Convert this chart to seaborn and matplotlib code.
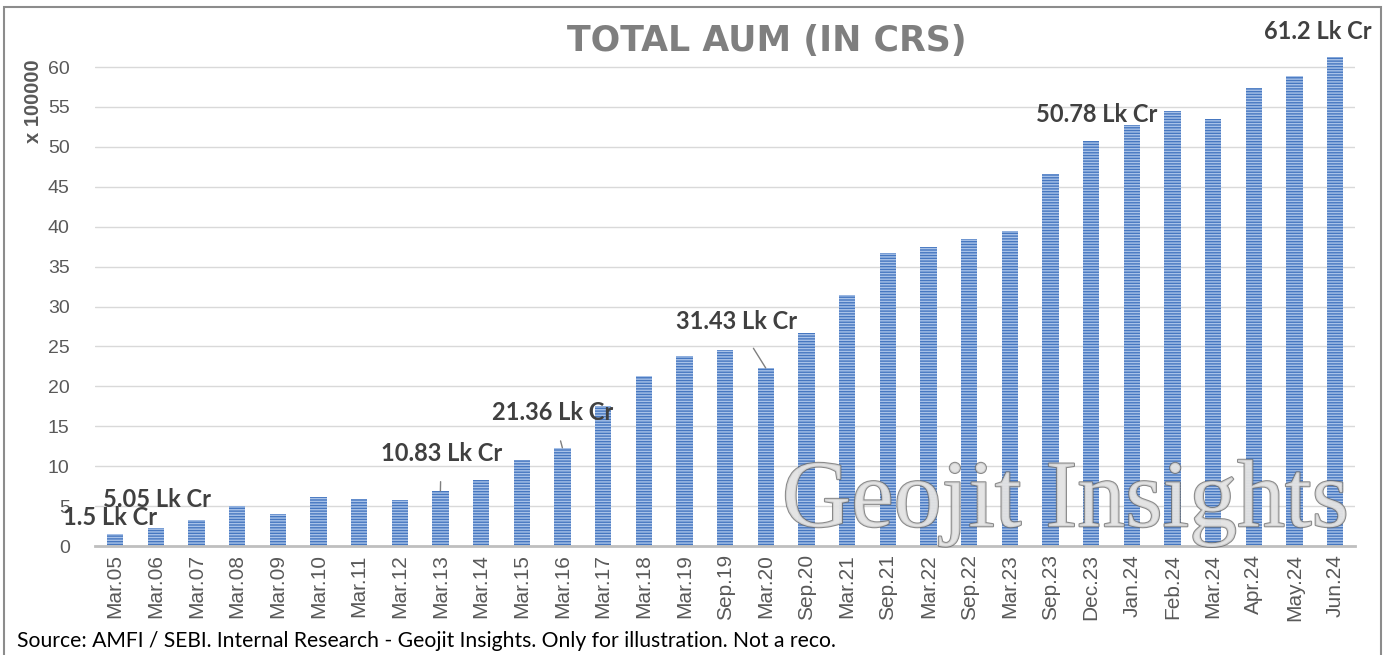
import matplotlib
matplotlib.use("Agg")
import matplotlib.pyplot as plt
import matplotlib.patheffects as pe
from matplotlib.patches import Rectangle
import seaborn as sns
import pandas as pd

periods = ["Mar.05", "Mar.06", "Mar.07", "Mar.08", "Mar.09", "Mar.10", "Mar.11",
           "Mar.12", "Mar.13", "Mar.14", "Mar.15", "Mar.16", "Mar.17", "Mar.18",
           "Mar.19", "Sep.19", "Mar.20", "Sep.20", "Mar.21", "Sep.21", "Mar.22",
           "Sep.22", "Mar.23", "Sep.23", "Dec.23", "Jan.24", "Feb.24", "Mar.24",
           "Apr.24", "May.24", "Jun.24"]
aum = [1.5, 2.3, 3.3, 5.05, 4.0, 6.1, 5.9, 5.8, 6.9, 8.25, 10.83, 12.3, 17.5,
       21.36, 23.8, 24.5, 22.3, 26.7, 31.43, 36.7, 37.5, 38.5, 39.5, 46.6,
       50.78, 52.8, 54.5, 53.5, 57.4, 58.9, 61.2]

# callout labels: text, text position (x idx, y), arrow target index (None = no leader)
callout_text = ["1.5 Lk Cr", "5.05 Lk Cr", "10.83 Lk Cr", "21.36 Lk Cr",
                "31.43 Lk Cr", "50.78 Lk Cr", "61.2 Lk Cr"]
callout_x = [-0.12, 1.03, 8.02, 10.77, 15.29, 24.15, 29.58]
callout_y = [3.6, 5.8, 11.65, 16.7, 28.1, 54.0, 64.4]
callout_to = [None, None, 8, 11, 16, None, None]

df = pd.DataFrame({"period": periods, "aum": aum})

sns.set_style("white")
plt.rcParams["font.family"] = ["Liberation Sans", "DejaVu Sans"]
plt.rcParams["hatch.linewidth"] = 1.0

fig = plt.figure(figsize=(13.89, 6.55), dpi=100)
ax = fig.add_axes([0.0682, 0.1664, 0.9076, 0.7556])

sns.barplot(data=df, x="period", y="aum", ax=ax, width=0.4, color="#4677c0",
            saturation=1, edgecolor="#a8c2e8", linewidth=0, hatch="------")

ax.set_xlim(-0.5, len(periods) - 0.5)
ax.set_ylim(0, 62)
ax.set_yticks(range(0, 61, 5))
ax.yaxis.grid(True, color="#d9d9d9", linewidth=1)
ax.set_axisbelow(True)
for s in ["top", "right", "left"]:
    ax.spines[s].set_visible(False)
ax.spines["bottom"].set_color("#bfbfbf")
ax.spines["bottom"].set_linewidth(2)
ax.tick_params(axis="y", length=0, labelsize=14, labelcolor="#595959", pad=18)
ax.tick_params(axis="x", length=0, labelsize=15, labelcolor="#595959", pad=6)
plt.setp(ax.get_xticklabels(), rotation=90)
ax.set_xlabel("")
ax.set_ylabel("")

lab_font = ["Lato", "DejaVu Sans"]
for t, tx, ty, to in zip(callout_text, callout_x, callout_y, callout_to):
    if to is None:
        ax.text(tx, ty, t, ha="center", va="center", fontsize=17,
                fontweight="bold", color="#404040", family=lab_font,
                clip_on=False)
    else:
        ax.annotate(t, xy=(to, aum[to]), xytext=(tx, ty), ha="center", va="center",
                    fontsize=17, fontweight="bold", color="#404040",
                    family=lab_font,
                    arrowprops=dict(arrowstyle="-", color="#7f7f7f", lw=1,
                                    shrinkA=10, shrinkB=0))

# watermark
wm = fig.text(0.767, 0.232, "Geojit Insights", ha="center", va="center", fontsize=69,
              family=["Liberation Serif", "DejaVu Serif"], color="#e3e3e3", alpha=0.8)
wm.set_path_effects([pe.Stroke(linewidth=1.5, foreground="#6d6d6d"), pe.Normal()])

fig.text(0.552, 0.938, "TOTAL AUM (IN CRS)", ha="center", va="center", fontsize=25,
         fontweight="bold", color="#7f7f7f", family=["DejaVu Sans"])
fig.text(0.024, 0.845, "x 100000", rotation=90, ha="center", va="center",
         fontsize=14.5, fontweight="bold", color="#595959")
fig.text(0.012, 0.021, "Source: AMFI / SEBI. Internal Research - Geojit Insights. "
         "Only for illustration. Not a reco.", ha="left", va="center",
         fontsize=15.2, color="#000000", family=lab_font)

fig.patches.append(Rectangle((0.003, -0.01), 0.991, 1.0, transform=fig.transFigure,
                             fill=False, edgecolor="#8c8c8c", linewidth=1.5))

fig.savefig("out.png", dpi=100)
